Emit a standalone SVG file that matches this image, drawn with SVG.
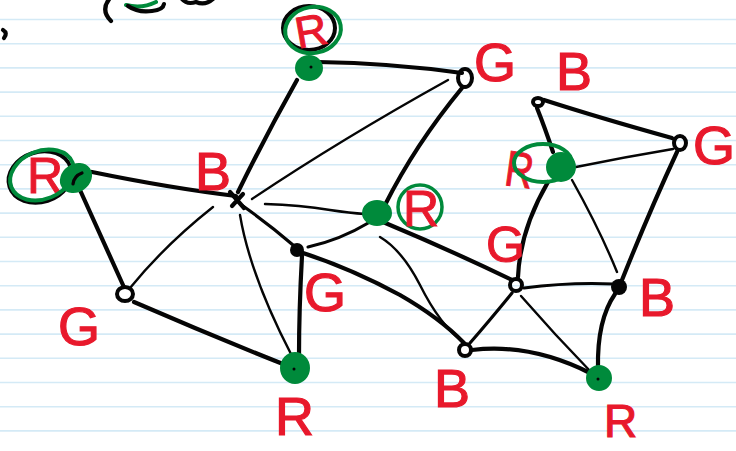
<svg xmlns="http://www.w3.org/2000/svg" width="736" height="451" viewBox="0 0 736 451">
<style>
.paper line{stroke:#d4eaf6;stroke-width:1.6}
.e{fill:none;stroke:#050505;stroke-linecap:round;stroke-linejoin:round}
.k{stroke-width:4.2}
.t{stroke-width:2.4}
.m{stroke-width:3.2}
.gf{fill:#008a3b;stroke:#008a3b;stroke-width:2}
.ring{fill:none;stroke:#050505;stroke-width:4}
.gring{fill:none;stroke:#008a3b;stroke-width:4}
.bdot{fill:#050505}
.lbl{font-family:"Liberation Sans",Arial,sans-serif;font-size:54px;fill:#e8192c;stroke:#e8192c;stroke-width:1.2}
.lbls{font-family:"Liberation Sans",Arial,sans-serif;font-size:50px;fill:#e8192c;stroke:#e8192c;stroke-width:1}
</style>
<rect width="736" height="451" fill="#ffffff"/>
<g class="paper">
<line x1="0" y1="19.5" x2="736" y2="19.5"/><line x1="0" y1="43.7" x2="736" y2="43.7"/>
<line x1="0" y1="67.9" x2="736" y2="67.9"/><line x1="0" y1="92.1" x2="736" y2="92.1"/>
<line x1="0" y1="116.3" x2="736" y2="116.3"/><line x1="0" y1="140.5" x2="736" y2="140.5"/>
<line x1="0" y1="164.7" x2="736" y2="164.7"/><line x1="0" y1="188.9" x2="736" y2="188.9"/>
<line x1="0" y1="213.1" x2="736" y2="213.1"/><line x1="0" y1="237.3" x2="736" y2="237.3"/>
<line x1="0" y1="261.5" x2="736" y2="261.5"/><line x1="0" y1="285.7" x2="736" y2="285.7"/>
<line x1="0" y1="309.9" x2="736" y2="309.9"/><line x1="0" y1="334.1" x2="736" y2="334.1"/>
<line x1="0" y1="358.3" x2="736" y2="358.3"/><line x1="0" y1="382.5" x2="736" y2="382.5"/>
<line x1="0" y1="406.7" x2="736" y2="406.7"/><line x1="0" y1="430.9" x2="736" y2="430.9"/>
</g>
<g id="scribble-top">
<path class="e k" d="M110,-2 Q100,10 111,21"/>
<path d="M126,5 Q142,9 156,2" fill="none" stroke="#008a3b" stroke-width="4" stroke-linecap="round"/>
<path class="e k" d="M128,6 Q138,13 152,11 Q163,10 164,4"/>
<path class="e k" d="M182,-1 Q187,5 196,2 Q205,6 213,-1"/>
<path class="e k" d="M3,30 Q8,33 4,38"/>
</g>
<g id="connectors">
<path class="e k" d="M318,62 Q390,63 462,73"/>
<path class="e k" d="M297,80 Q266,135 238,192"/>
<path class="e k" d="M462,88 Q415,145 385,205"/>
<path class="e k" d="M92,172 Q170,188 236,196"/>
<path class="e k" d="M80,190 Q105,245 123,285"/>
<path class="e k" d="M302,256 Q299,310 299,356"/>
<path class="e k" d="M134,302 Q210,335 283,364"/>
<path class="e k" d="M300,252 Q350,268 400,295 Q440,318 464,343"/>
<path class="e k" d="M383,222 Q450,250 512,280"/>
<path class="e k" d="M518,277 Q520,230 548,182"/>
<path class="e k" d="M472,350 Q530,343 590,373"/>
<path class="e k" d="M615,294 Q597,320 598,368"/>
<path class="e k" d="M677,152 Q650,210 622,280"/>
<path class="e k" d="M544,100 Q600,118 672,138"/>
<path class="e k" d="M537,108 Q545,128 553,152"/>
<path class="e t" d="M252,199 Q340,140 448,80"/>
<path class="e t" d="M213,207 Q165,245 130,288"/>
<path class="e t" d="M265,204 Q300,205 330,210 Q350,213 365,214"/>
<path class="e m" d="M243,206 Q270,225 293,245"/>
<path class="e t" d="M240,215 Q250,275 292,356"/>
<path class="e m" d="M308,247 Q340,240 370,222"/>
<path class="e t" d="M380,237 Q402,250 420,285 Q440,325 463,342"/>
<path class="e m" d="M512,293 Q490,320 470,343"/>
<path class="e m" d="M524,288 Q570,282 614,284"/>
<path class="e t" d="M521,296 Q555,335 591,372"/>
<path class="e t" d="M572,180 Q600,230 617,272"/>
<path class="e t" d="M576,167 Q625,157 673,149"/>
</g>
<g id="n-r-top">
<ellipse class="ring" cx="309" cy="28" rx="26" ry="22"/>
<text class="lbls" x="295" y="46" transform="rotate(-10 311 30)" style="font-size:44px">R</text>
<ellipse class="gring" cx="313" cy="30" rx="28" ry="23" transform="rotate(-10 313 30)"/>
<ellipse class="gf" cx="309" cy="68" rx="13" ry="12"/>
<circle class="bdot" cx="311" cy="67" r="1.5"/>
</g>
<g id="n-g-top">
<ellipse class="ring" cx="465" cy="78" rx="7" ry="9"/>
<text class="lbl" x="474" y="81">G</text>
</g>
<g id="n-b-topright">
<ellipse class="ring" cx="538" cy="102" rx="5" ry="4"/>
<text class="lbl" x="556" y="90">B</text>
</g>
<g id="n-g-farright">
<ellipse class="ring" cx="680" cy="143" rx="6" ry="7"/>
<text class="lbl" x="693" y="164">G</text>
</g>
<g id="n-r-rightcluster">
<text class="lbls" x="506" y="187" transform="rotate(8 520 166)" textLength="28" lengthAdjust="spacingAndGlyphs">R</text>
<ellipse class="gring" cx="543" cy="163" rx="29" ry="19"/>
<circle class="gf" cx="561" cy="167" r="14"/>
</g>
<g id="n-r-left">
<ellipse class="ring" cx="40" cy="177" rx="32" ry="25" transform="rotate(-18 40 177)"/>
<text class="lbls" x="27" y="193">R</text>
<ellipse class="gring" cx="42" cy="175" rx="33" ry="24" transform="rotate(-22 42 175)"/>
<ellipse class="gf" cx="76" cy="178" rx="16" ry="13" transform="rotate(-35 76 178)"/>
<path class="e m" d="M73,184 Q74,176 82,173"/>
</g>
<g id="n-b-center">
<path class="e k" d="M230,192 L244,208 M243,194 L232,206"/>
<text class="lbl" x="195" y="190">B</text>
</g>
<g id="n-r-mid">
<ellipse class="gf" cx="377" cy="213" rx="14" ry="12"/>
<circle class="gring" cx="420" cy="207" r="22" style="stroke-width:3.5"/>
<text class="lbls" x="403" y="226">R</text>
</g>
<g id="n-g-mid">
<circle class="bdot" cx="297" cy="250" r="7"/>
<text class="lbl" x="304" y="311">G</text>
</g>
<g id="n-g-left">
<ellipse class="ring" cx="125" cy="294" rx="8" ry="7"/>
<text class="lbl" x="58" y="345">G</text>
</g>
<g id="n-r-bottom">
<ellipse class="gf" cx="295" cy="368" rx="14" ry="15"/>
<circle class="bdot" cx="294" cy="369" r="1.5"/>
<text class="lbl" x="275" y="435">R</text>
</g>
<g id="n-g-rightmid">
<circle class="ring" cx="516" cy="285" r="6"/>
<text class="lbls" x="486" y="262">G</text>
</g>
<g id="n-b-rightmid">
<circle class="bdot" cx="619" cy="287" r="8"/>
<text class="lbl" x="639" y="316">B</text>
</g>
<g id="n-b-bottom">
<circle class="ring" cx="465" cy="350" r="6"/>
<text class="lbl" x="434" y="407">B</text>
</g>
<g id="n-r-bottomright">
<circle class="gf" cx="599" cy="378" r="12"/>
<circle class="bdot" cx="598" cy="379" r="1.5"/>
<text class="lbl" x="604" y="437" style="font-size:46px">R</text>
</g>
</svg>
